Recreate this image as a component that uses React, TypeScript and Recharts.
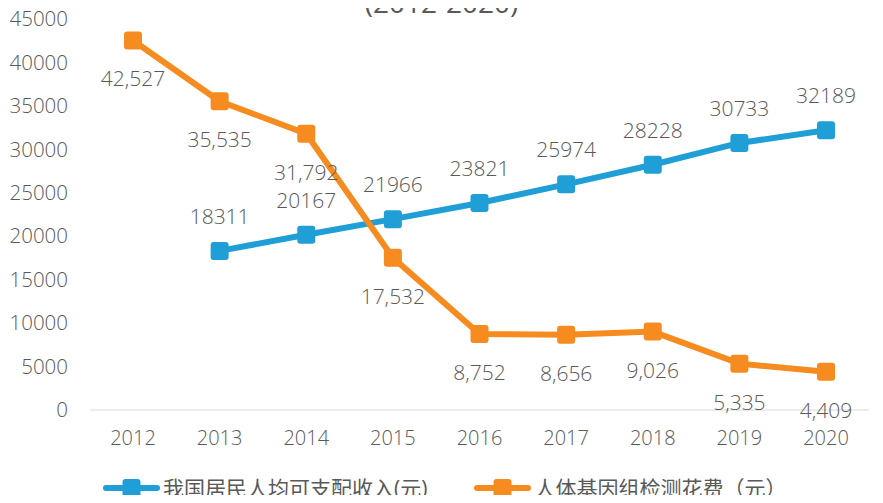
import { LineChart, Line, XAxis, YAxis, LabelList } from "recharts"

const years = ["2012", "2013", "2014", "2015", "2016", "2017", "2018", "2019", "2020"]
const income = [null, 18311, 20167, 21966, 23821, 25974, 28228, 30733, 32189]
const genomeCost = [42527, 35535, 31792, 17532, 8752, 8656, 9026, 5335, 4409]
const yTicks = [0, 5000, 10000, 15000, 20000, 25000, 30000, 35000, 40000, 45000]

const incomeName = "我国居民人均可支配收入(元)"
const costName = "人体基因组检测花费（元）"

const BLUE = "#1f9fd5"
const ORANGE = "#f68b1f"
const TEXT = "#595959"
const FONT = "'Open Sans', 'Noto Sans CJK SC', sans-serif"

const data = years.map((year, i) => ({ year, income: income[i], cost: genomeCost[i] }))

const SquareDot = (color: string) => (props: any) => {
  const { cx, cy, index } = props
  if (cx == null || cy == null || props.value == null) return <g key={index} />
  return <rect key={index} x={cx - 9} y={cy - 9} width={18} height={18} rx={3} fill={color} />
}

const makeLabel = (offset: number, commas: boolean) => (props: any) => {
  const { x, y, value, index } = props
  if (value == null) return <g key={index} />
  const txt = commas ? Number(value).toLocaleString("en-US") : String(value)
  return (
    <text key={index} x={x} y={y + offset} textAnchor="middle" dominantBaseline="central"
      fontSize={21} fill={TEXT} fontFamily={FONT} fontWeight={300}>
      {txt}
    </text>
  )
}

const LegendIcon = ({ color }: { color: string }) => (
  <svg width={57} height={20} style={{ marginRight: 3 }}>
    <rect x={0} y={7} width={57} height={6} rx={3} fill={color} />
    <rect x={19.5} y={1} width={18} height={18} rx={3} fill={color} />
  </svg>
)

export default function App() {
  return (
    <div style={{ margin: -8, width: 883, height: 503, position: "relative", overflow: "hidden", background: "#fff" }}>
      <div style={{ position: "absolute", top: -13, left: 0, width: 883, textAlign: "center", fontFamily: FONT, fontSize: 28, lineHeight: "30px", color: TEXT }}>
        (2012-2020)
      </div>
      <LineChart width={883} height={503} data={data} margin={{ top: 19, right: 14, bottom: 0, left: 0 }}>
        <XAxis dataKey="year" stroke="#d9d9d9" tickLine={false} tickSize={0} tickMargin={21} height={93}
          padding={{ left: 43, right: 43 }}
          tick={{ fill: TEXT, fontSize: 20, fontFamily: FONT, fontWeight: 300 }} />
        <YAxis width={90} domain={[0, 45000]} ticks={yTicks} axisLine={false} tickLine={false} tickSize={0} tickMargin={22}
          interval={0} tick={{ fill: TEXT, fontSize: 20.5, fontFamily: FONT, fontWeight: 300 }} />
        <Line type="linear" dataKey="income" name={incomeName} stroke={BLUE} strokeWidth={6}
          dot={SquareDot(BLUE)} activeDot={false} isAnimationActive={false} connectNulls={false}>
          <LabelList dataKey="income" content={makeLabel(-35, false)} />
        </Line>
        <Line type="linear" dataKey="cost" name={costName} stroke={ORANGE} strokeWidth={6}
          dot={SquareDot(ORANGE)} activeDot={false} isAnimationActive={false}>
          <LabelList dataKey="cost" content={makeLabel(38, true)} />
        </Line>
      </LineChart>
      <div style={{ position: "absolute", top: 477, left: 0, width: 883, display: "flex", alignItems: "center", paddingLeft: 103, fontFamily: FONT, fontSize: 21, color: TEXT, lineHeight: "22px" }}>
        <LegendIcon color={BLUE} />
        <span style={{ marginRight: 47 }}>{incomeName}</span>
        <LegendIcon color={ORANGE} />
        <span>{costName}</span>
      </div>
    </div>
  )
}
